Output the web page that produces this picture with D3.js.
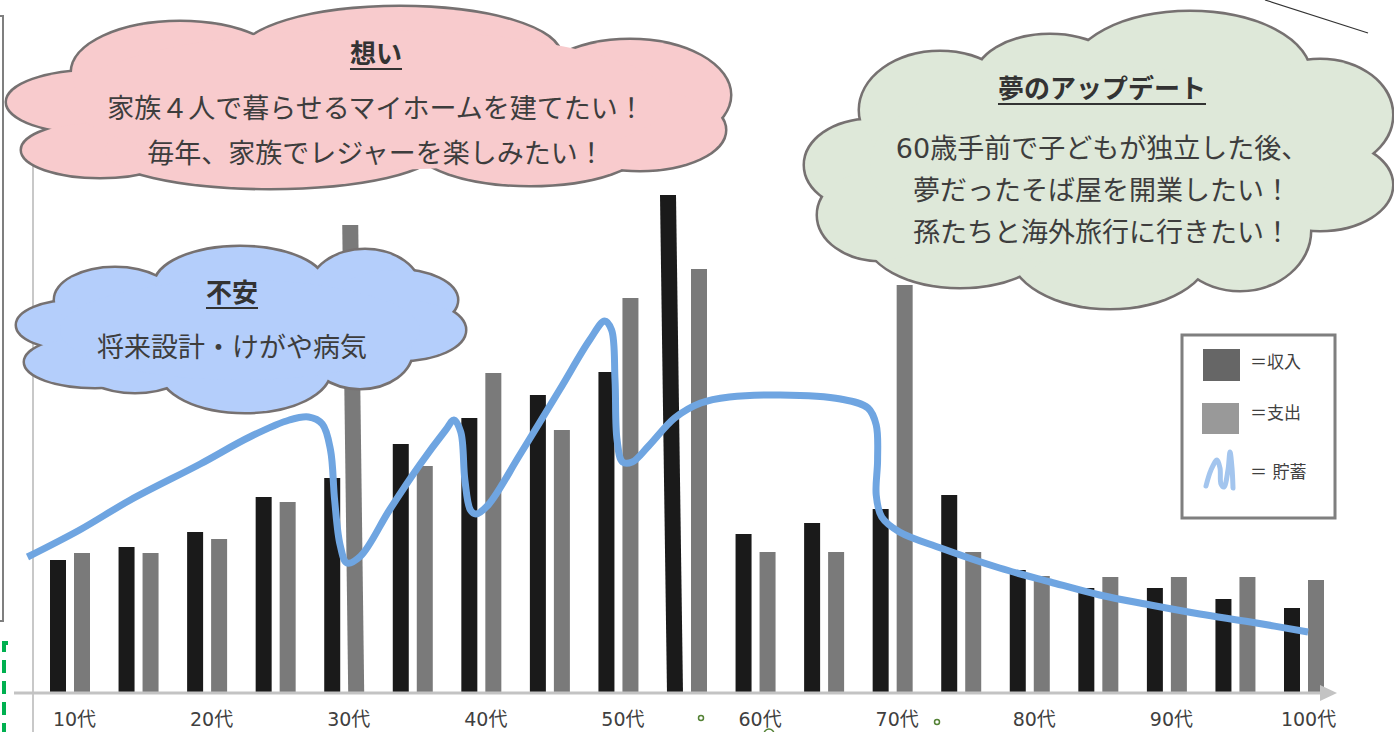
<!DOCTYPE html>
<html>
<head>
<meta charset="utf-8">
<script src="https://cdn.jsdelivr.net/npm/d3@7"></script>
<style>
  html, body { margin: 0; padding: 0; background: #fff; }
  svg { display: block; font-family: "DejaVu Sans", "Noto Sans CJK JP", sans-serif; }
</style>
</head>
<body>
<svg width="1394" height="732"></svg>
<script>
// one bar pair every five years, labels every ten
const ages = [10, 15, 20, 25, 30, 35, 40, 45, 50, 55, 60, 65, 70, 75, 80, 85, 90, 95, 100];
const tickAges = [10, 20, 30, 40, 50, 60, 70, 80, 90, 100];
const tickLabels = ["10代", "20代", "30代", "40代", "50代", "60代", "70代", "80代", "90代", "100代"];

// 収入 / 支出 (relative units)
const income = [26.6, 29.2, 32.2, 39.2, 43, 49.8, 55, 59.6, 64.2, 99.6, 31.8, 34, 36.8, 39.6, 24.6, 21, 21, 18.8, 17];
const expense = [28, 28, 30.8, 38.2, 93.6, 45.4, 64, 52.6, 79, 84.8, 28.2, 28.2, 81.6, 28.2, 23.4, 23.2, 23.2, 23.2, 22.6];

// 貯蓄 curve: [age, value]
const savings = [
  [6.9, 27.2], [10.7, 32.6], [14.4, 38.6], [19.5, 45.8], [23.1, 51.2], [26.0, 54.6],
  [27.4, 55.2], [28.4, 53.8], [29.0, 48.6], [29.3, 38.6], [29.7, 29.6], [30.2, 26],
  [31.2, 27.4], [33.3, 36.6], [35.5, 45.6], [37.4, 52.6], [38.0, 54.6], [38.5, 52.2],
  [38.8, 42.6], [39.2, 36.6], [39.6, 35.8], [40.5, 37.6], [42.8, 47.6], [45.7, 60.6],
  [47.9, 70.6], [49.0, 74.4], [49.5, 72.6], [49.75, 62.6], [49.9, 50.6], [50.3, 46.2],
  [51.0, 46.2], [52.2, 49.4], [54.1, 55], [56.0, 58], [58.1, 59.2], [61.8, 59.6],
  [66.2, 58.8], [68.2, 57], [68.8, 53.6], [68.9, 46.6], [68.8, 39.6], [69.2, 35.2],
  [70.5, 32.2], [73.5, 29], [77.8, 25], [81.5, 22.2], [85.1, 19.6], [88.8, 17.6],
  [92.4, 15.8], [96.1, 14.2], [100.3, 12.2]
];

// cloud texts
const wishTitle = "想い";
const wishLines = ["家族４人で暮らせるマイホームを建てたい！", "毎年、家族でレジャーを楽しみたい！"];
const worryTitle = "不安";
const worryLines = ["将来設計・けがや病気"];
const dreamTitle = "夢のアップデート";
const dreamLines = ["60歳手前で子どもが独立した後、", "夢だったそば屋を開業したい！", "孫たちと海外旅行に行きたい！"];

const legendLabels = ["＝収入", "＝支出", "＝ 貯蓄"];

const svg = d3.select("svg");
const baseY = 693;

const x = d3.scaleLinear().domain([10, 100]).range([70, 1304]);
const y = d3.scaleLinear().domain([0, 100]).range([baseY, 193]);
const barW = 16;

// frame bits at the left edge
svg.append("path")
    .attr("d", "M0,16 H3 V621 H0")
    .attr("fill", "none")
    .attr("stroke", "#7f7f7f")
    .attr("stroke-width", 2);
svg.append("path")
    .attr("d", "M8,643 H4 V732")
    .attr("fill", "none")
    .attr("stroke", "#00b050")
    .attr("stroke-width", 4)
    .attr("stroke-dasharray", "13,8");

// y axis line
svg.append("line")
    .attr("x1", 33).attr("x2", 33)
    .attr("y1", 150).attr("y2", 732)
    .attr("stroke", "#c8c8c8")
    .attr("stroke-width", 2);

// a couple of bars lean a little in the original
const lean = { income: { 55: -7 }, expense: { 30: -6 } };

function barPath(x0, v, dx) {
  const top = y(v);
  return `M${x0 + dx},${top} L${x0 + barW + dx},${top} L${x0 + barW},${baseY} L${x0},${baseY} Z`;
}

svg.append("g").selectAll("path")
  .data(ages)
  .join("path")
    .attr("d", (a, i) => barPath(x(a) - 20, income[i], lean.income[a] || 0))
    .attr("fill", "#1a1a1a");

svg.append("g").selectAll("path")
  .data(ages)
  .join("path")
    .attr("d", (a, i) => barPath(x(a) + 4, expense[i], lean.expense[a] || 0))
    .attr("fill", "#7a7a7a");

// x axis: labels through d3.axisBottom, own line with arrow head
const axis = svg.append("g")
    .attr("transform", `translate(0,${baseY})`)
    .call(d3.axisBottom(x)
      .tickValues(tickAges)
      .tickSize(0)
      .tickPadding(0)
      .tickFormat((d, i) => tickLabels[i]));
axis.select(".domain").remove();
axis.selectAll("text")
    .attr("dy", null)
    .attr("y", 33)
    .attr("x", 4)
    .attr("font-family", "\"DejaVu Sans\", \"Noto Sans CJK JP\", sans-serif")
    .attr("font-size", 19)
    .attr("fill", "#404040");

svg.append("line")
    .attr("x1", 14).attr("x2", 1322)
    .attr("y1", baseY).attr("y2", baseY)
    .attr("stroke", "#c3c3c3")
    .attr("stroke-width", 3);
svg.append("path")
    .attr("d", `M1320,${baseY - 8} L1337,${baseY} L1320,${baseY + 8} Z`)
    .attr("fill", "#c3c3c3");

// savings curve
const line = d3.line()
    .x(d => x(d[0]))
    .y(d => y(d[1]))
    .curve(d3.curveCatmullRom.alpha(0.5));

svg.append("path")
    .datum(savings)
    .attr("d", line)
    .attr("fill", "none")
    .attr("stroke", "#6fa5e1")
    .attr("stroke-width", 7)
    .attr("stroke-linecap", "butt")
    .attr("stroke-linejoin", "round");

// clouds: stroked lobes first, then the same lobes filled on top hide inner strokes
function cloud(lobes, core, fill) {
  const g = svg.append("g");
  g.selectAll("ellipse.edge")
    .data(lobes)
    .join("ellipse")
      .attr("class", "edge")
      .attr("cx", d => d[0]).attr("cy", d => d[1])
      .attr("rx", d => d[2]).attr("ry", d => d[3])
      .attr("fill", fill)
      .attr("stroke", "#767171")
      .attr("stroke-width", 5);
  g.selectAll("ellipse.body")
    .data(lobes.concat([core]))
    .join("ellipse")
      .attr("class", "body")
      .attr("cx", d => d[0]).attr("cy", d => d[1])
      .attr("rx", d => d[2]).attr("ry", d => d[3])
      .attr("fill", fill);
  return g;
}

function cloudText(g, cx, titleY, title, lines, lineY0, step) {
  const t = g.append("text")
      .attr("x", cx).attr("y", titleY)
      .attr("text-anchor", "middle")
      .attr("font-size", 26)
      .attr("font-weight", 700)
      .attr("fill", "#333")
      .text(title);
  const bb = t.node().getBBox();
  g.append("line")
      .attr("x1", bb.x).attr("x2", bb.x + bb.width)
      .attr("y1", titleY + 6).attr("y2", titleY + 6)
      .attr("stroke", "#333")
      .attr("stroke-width", 2);
  g.selectAll("text.body")
    .data(lines)
    .join("text")
      .attr("class", "body")
      .attr("x", cx)
      .attr("y", (d, i) => lineY0 + i * step)
      .attr("text-anchor", "middle")
      .attr("font-size", 27)
      .attr("fill", "#3d3d3d")
      .text(d => d);
}

const pink = cloud([
  [95, 102, 88, 31], [180, 72, 108, 50], [400, 55, 160, 48], [630, 95, 100, 55],
  [100, 150, 78, 27], [270, 150, 165, 38], [530, 145, 115, 40], [640, 130, 85, 40]
], [370, 100, 300, 70], "#f8cbcd");
cloudText(pink, 376, 63, wishTitle, wishLines, 118, 45);

const blue = cloud([
  [75, 325, 58, 24], [115, 300, 60, 32], [240, 285, 85, 38], [365, 290, 55, 40],
  [395, 300, 62, 30], [400, 330, 65, 30], [360, 350, 52, 38], [245, 370, 85, 42],
  [95, 362, 70, 25], [135, 365, 55, 27]
], [240, 330, 180, 50], "#b4cefb");
cloudText(blue, 232, 302, worryTitle, worryLines, 357, 45);

const green = cloud([
  [870, 165, 65, 45], [940, 110, 80, 58], [1050, 80, 75, 45], [1190, 75, 120, 63],
  [1320, 115, 72, 55], [1320, 185, 72, 45], [1240, 230, 70, 60], [1110, 250, 100, 58],
  [960, 235, 95, 52], [880, 215, 62, 45]
], [1100, 165, 230, 100], "#dee8d9");
cloudText(green, 1102, 98, dreamTitle, dreamLines, 158, 42);

// legend
const legend = svg.append("g");
legend.append("rect")
    .attr("x", 1182).attr("y", 335)
    .attr("width", 153).attr("height", 183)
    .attr("fill", "#fff")
    .attr("stroke", "#7f7f7f")
    .attr("stroke-width", 3);
legend.append("rect")
    .attr("x", 1203).attr("y", 349).attr("width", 37).attr("height", 32)
    .attr("fill", "#666");
legend.append("rect")
    .attr("x", 1202).attr("y", 403).attr("width", 37).attr("height", 31)
    .attr("fill", "#999");
legend.append("path")
    .attr("d", d3.line().curve(d3.curveCatmullRom)([
      [1206, 486], [1211, 470], [1217, 460], [1220, 468], [1221, 484],
      [1224, 487], [1228, 470], [1230, 452], [1232, 468], [1233, 488]
    ]))
    .attr("fill", "none")
    .attr("stroke", "#a3c5ee")
    .attr("stroke-width", 5)
    .attr("stroke-linecap", "round")
    .attr("stroke-linejoin", "round");
legend.selectAll("text")
  .data(legendLabels)
  .join("text")
    .attr("x", 1250)
    .attr("y", (d, i) => [368, 419, 478][i])
    .attr("font-size", 17)
    .attr("fill", "#404040")
    .text(d => d);

// stray marks from the source slide
svg.append("line")
    .attr("x1", 1265).attr("y1", 0)
    .attr("x2", 1368).attr("y2", 33)
    .attr("stroke", "#333")
    .attr("stroke-width", 1.2);
svg.append("g").selectAll("circle")
  .data([[701, 718, 2.5], [937, 722, 2.5], [769, 734, 5]])
  .join("circle")
    .attr("cx", d => d[0]).attr("cy", d => d[1]).attr("r", d => d[2])
    .attr("fill", "#fff")
    .attr("stroke", "#548235")
    .attr("stroke-width", 1.5);
</script>
</body>
</html>
